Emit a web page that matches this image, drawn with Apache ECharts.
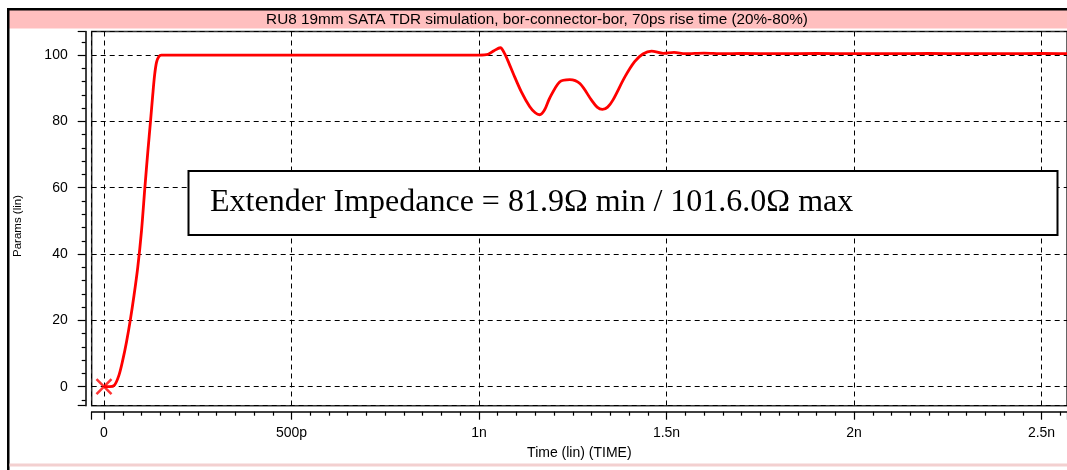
<!DOCTYPE html>
<html>
<head>
<meta charset="utf-8">
<script src="https://cdn.jsdelivr.net/npm/echarts@6/dist/echarts.min.js"></script>
<style>
html,body{margin:0;padding:0;background:#fff;}
#c{width:1067px;height:470px;}
</style>
</head>
<body>
<div id="c"></div>
<script>
// ---- data (time in ps, value in params) ----
const timePs = [0, 15, 28, 40, 50, 60, 70, 80, 90, 100, 109, 117, 124, 130, 135, 140, 146, 153, 200, 400, 600, 800, 1000,
  1024, 1040, 1057, 1068, 1080, 1091, 1113, 1135, 1150, 1162, 1175, 1188, 1215, 1242, 1269, 1300, 1315, 1329, 1343, 1357,
  1389, 1415, 1437, 1460, 1491, 1520, 1550, 1600, 1650, 1700, 1800, 1900, 2000, 2100, 2200, 2300, 2400, 2500, 2568];
const values = [0, 0, 0.5, 3.5, 8, 13.5, 20, 27.5, 36, 47, 60, 71, 80, 88, 94, 97.8, 99.5, 100, 100, 100, 100, 100, 100,
  100.2, 101.3, 102.2, 100.5, 97.5, 94.5, 88.9, 84.5, 82.6, 82.0, 83.5, 86.9, 91.9, 92.6, 91.4, 86.4, 84.3, 83.6, 84.3, 86.4,
  93.4, 98.0, 100.3, 101.2, 100.5, 100.8, 100.4, 100.6, 100.4, 100.5, 100.4, 100.5, 100.4, 100.4, 100.5, 100.4, 100.4, 100.5, 100.4];
const markerTime = [0];
const markerValue = [0];
const titleText = 'RU8 19mm SATA TDR simulation, bor-connector-bor, 70ps rise time (20%-80%)';
const noteText = 'Extender Impedance = 81.9\u03A9 min / 101.6.0\u03A9 max';
const xName = 'Time (lin) (TIME)';
const yName = 'Params (lin)';
const xMin = -32.8, xMax = 2568;
const yMin = -5.73, yMax = 107.1;

function fmtTime(v) {
  if (Math.abs(v) < 1e-9) return '0';
  if (v < 1000) return v + 'p';
  return (v / 1000) + 'n';
}

const chart = echarts.init(document.getElementById('c'), null, {renderer: 'canvas'});
const font = '"Liberation Sans", Arial, sans-serif';
chart.setOption({
  animation: false,
  backgroundColor: '#fff',
  grid: {left: 91.7, top: 31.5, right: 0, bottom: 64.3, show: true, borderColor: '#333', borderWidth: 1.5,
         containLabel: false, outerBoundsMode: 'none'},
  xAxis: {
    type: 'value', min: xMin, max: xMax, splitNumber: 5, offset: 6,
    name: xName, nameLocation: 'middle', nameGap: 34,
    nameTextStyle: {fontFamily: font, fontSize: 14, color: '#000'},
    axisLine: {show: true, onZero: false, lineStyle: {color: '#000', width: 1.5}},
    axisTick: {show: true, length: 8, lineStyle: {color: '#000', width: 1.2}},
    minorTick: {show: true, splitNumber: 10, length: 4, lineStyle: {color: '#000', width: 1.2}},
    axisLabel: {formatter: fmtTime, fontFamily: font, fontSize: 14, color: '#000', margin: 14,
                showMinLabel: false, showMaxLabel: false},
    splitLine: {show: true, lineStyle: {color: '#000', width: 1, type: [5, 4]}}
  },
  yAxis: {
    type: 'value', min: yMin, max: yMax, splitNumber: 5, offset: 6,
    axisLine: {show: true, onZero: false, lineStyle: {color: '#000', width: 1.5}},
    axisTick: {show: true, length: 8, lineStyle: {color: '#000', width: 1.2}},
    minorTick: {show: true, splitNumber: 5, length: 4, lineStyle: {color: '#000', width: 1.2}},
    axisLabel: {fontFamily: font, fontSize: 14, color: '#000', margin: 18,
                showMinLabel: false, showMaxLabel: false},
    splitLine: {show: true, lineStyle: {color: '#000', width: 1, type: [5, 4]}}
  },
  graphic: [
    {type: 'rect', shape: {x: 9, y: 10, width: 1058, height: 18.5}, style: {fill: '#ffbfbf'}, z: 0},
    {type: 'rect', shape: {x: 7, y: 8, width: 1060, height: 2.5}, style: {fill: '#000'}, z: 10},
    {type: 'rect', shape: {x: 7, y: 8, width: 2.5, height: 462}, style: {fill: '#000'}, z: 10},
    {type: 'rect', shape: {x: 9.5, y: 463.5, width: 1058, height: 3}, style: {fill: '#f3d0d0'}, z: 10},
    {type: 'text', x: 537, y: 19.5, style: {text: titleText, fontFamily: font, fontSize: 15.3, fill: '#000',
      textAlign: 'center', textVerticalAlign: 'middle'}, z: 11},
    {type: 'text', x: 18, y: 226, rotation: Math.PI / 2, style: {text: yName, fontFamily: font, fontSize: 11.5, fill: '#000',
      textAlign: 'center', textVerticalAlign: 'middle'}, z: 11},
    {type: 'rect', shape: {x: 188.5, y: 171, width: 869, height: 64}, style: {fill: '#fff', stroke: '#000', lineWidth: 2}, z: 20},
    {type: 'text', x: 210, y: 203, style: {text: noteText, fontFamily: '"Liberation Serif", "Times New Roman", serif',
      fontSize: 32, fill: '#000', textAlign: 'left', textVerticalAlign: 'middle'}, z: 21}
  ],
  series: [
    {type: 'line', data: timePs.map((t, i) => [t, values[i]]), showSymbol: false, smooth: 0.3,
     lineStyle: {color: '#ff0000', width: 2.8}, z: 5},
    {type: 'scatter', data: markerTime.map((t, i) => [t, markerValue[i]]),
     symbol: 'path://M0,0L10,10M10,0L0,10', symbolSize: 15,
     itemStyle: {color: 'none', borderColor: '#ff0000', borderWidth: 2.5}, z: 6}
  ]
});
</script>
</body>
</html>
